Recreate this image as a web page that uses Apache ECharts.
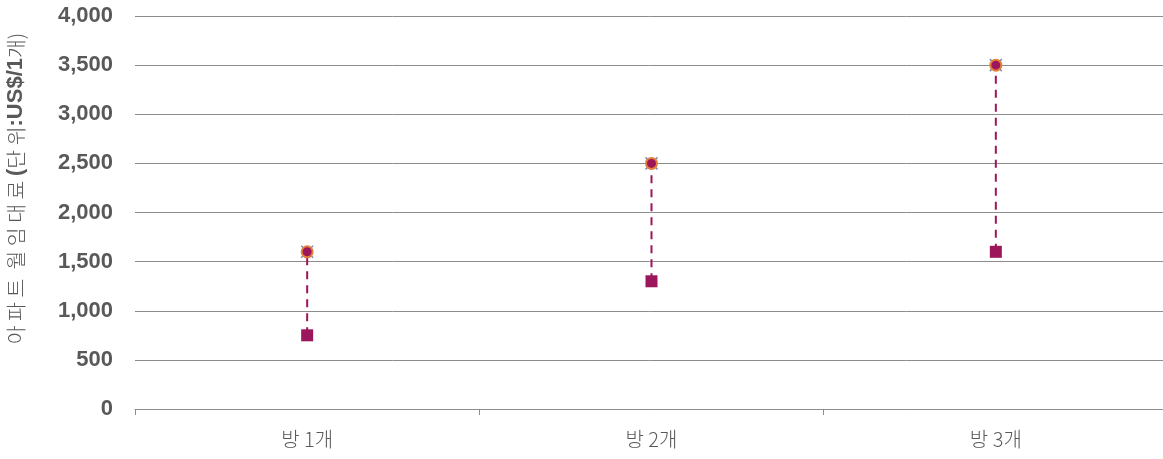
<!DOCTYPE html>
<html>
<head>
<meta charset="utf-8">
<script src="https://cdn.jsdelivr.net/npm/echarts@6/dist/echarts.min.js"></script>
<style>
html,body{margin:0;padding:0;background:#fff;}
#chart{width:1163px;height:459px;}
</style>
</head>
<body>
<div id="chart"></div>
<script>
const categories = ['방 1개', '방 2개', '방 3개'];
const lowValues = [750, 1300, 1600];
const highValues = [1600, 2500, 3500];
const yTicks = [0, 500, 1000, 1500, 2000, 2500, 3000, 3500, 4000];

const FONT = '"Liberation Sans", "Noto Sans CJK KR", sans-serif';
const MAIN = '#9c165b';

const chart = echarts.init(document.getElementById('chart'));
chart.setOption({
  animation: false,
  grid: { left: 135, top: 16, width: 1033, height: 393, outerBoundsMode: 'none', containLabel: false },
  xAxis: {
    type: 'category',
    data: categories,
    boundaryGap: true,
    axisLine: { show: true, lineStyle: { color: '#8c8c8c', width: 1 } },
    axisTick: { show: true, length: 6, lineStyle: { color: '#8c8c8c' } },
    axisLabel: { color: '#595959', fontSize: 20, fontFamily: '"Noto Sans CJK KR", sans-serif', fontWeight: 300, margin: 20 }
  },
  yAxis: {
    type: 'value',
    min: yTicks[0],
    max: yTicks[yTicks.length - 1],
    interval: 500,
    axisLine: { show: false },
    axisTick: { show: false },
    splitLine: { lineStyle: { color: '#8c8c8c', width: 1 } },
    axisLabel: {
      color: '#595959', fontSize: 22, fontWeight: 'bold', fontFamily: FONT, margin: 22,
      formatter: v => v.toLocaleString('en-US')
    },
    name: '{n|아 파 트  월 임 대 료 }{b|(}{n|단 위}{b|:US$/1}{n|개)}',
    nameLocation: 'middle',
    nameRotate: 90,
    nameGap: 108,
    nameTextStyle: {
      padding: [0, 0, 0, 48],
      rich: {
        n: { fontSize: 20.5, color: '#595959', fontFamily: '"Noto Sans CJK KR", sans-serif', fontWeight: 300 },
        b: { fontSize: 22, color: '#595959', fontFamily: FONT, fontWeight: 'bold' }
      }
    }
  },
  series: [
    {
      type: 'custom',
      z: 2,
      data: categories.map((c, i) => [i, lowValues[i], highValues[i]]),
      renderItem: function (params, api) {
        const p1 = api.coord([api.value(0), api.value(1)]);
        const p2 = api.coord([api.value(0), api.value(2)]);
        return {
          type: 'line',
          shape: { x1: p1[0], y1: p1[1], x2: p2[0], y2: p2[1] },
          style: { stroke: MAIN, lineWidth: 2, lineDash: [8, 6] }
        };
      }
    },
    {
      type: 'scatter',
      z: 3,
      symbol: 'rect',
      symbolSize: 12,
      itemStyle: { color: MAIN, opacity: 1 },
      data: categories.map((c, i) => [i, lowValues[i]])
    },
    {
      type: 'scatter',
      z: 3,
      symbol: 'path://M0,0 L2,2 M2,0 L0,2',
      symbolSize: 12,
      itemStyle: { color: 'none', borderColor: '#8088c0', borderWidth: 1.5, opacity: 1 },
      data: categories.map((c, i) => [i, highValues[i]])
    },
    {
      type: 'scatter',
      z: 4,
      symbol: 'circle',
      symbolSize: 11,
      itemStyle: { color: MAIN, borderColor: '#e4803a', borderWidth: 2, opacity: 1 },
      data: categories.map((c, i) => [i, highValues[i]])
    }
  ]
});
</script>
</body>
</html>
